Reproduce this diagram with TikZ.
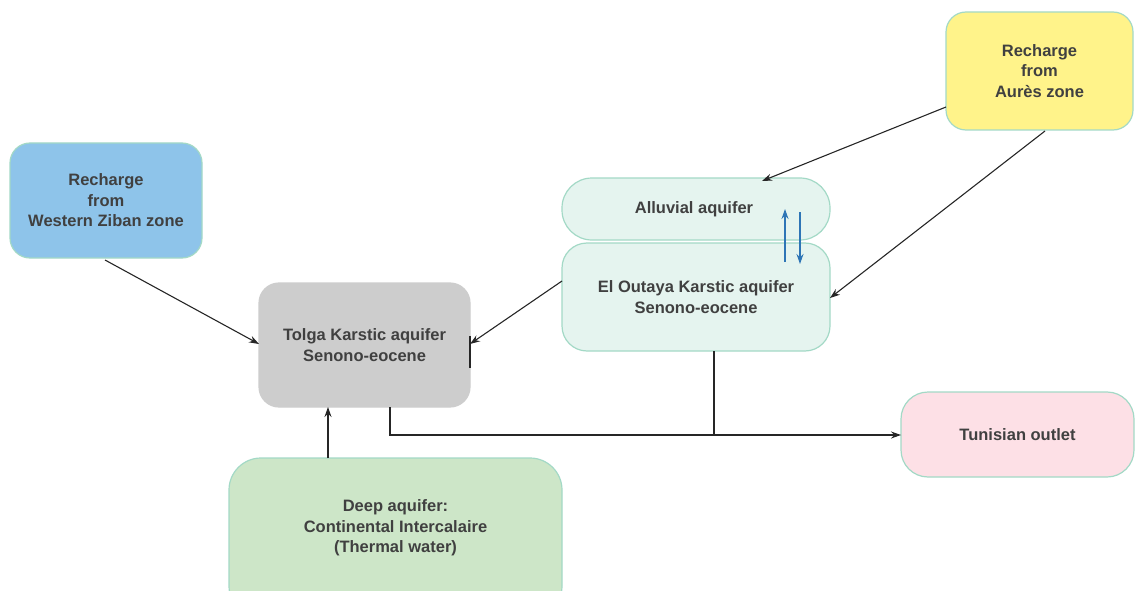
\documentclass[tikz,border=0pt]{standalone}
\usepackage{fontspec}
\setmainfont{Liberation Sans}
\usetikzlibrary{arrows.meta}
\definecolor{txt}{HTML}{404040}
\definecolor{bord}{HTML}{A3D9C6}
\definecolor{cblue}{HTML}{8EC4EA}
\definecolor{cgray}{HTML}{CDCDCD}
\definecolor{cmint}{HTML}{E5F4EF}
\definecolor{cyel}{HTML}{FFF38A}
\definecolor{cpink}{HTML}{FDE0E6}
\definecolor{cgreen}{HTML}{CDE6C8}
\definecolor{arrblue}{HTML}{2E75B6}
\tikzset{
  boxstyle/.style={draw=bord, line width=1.2pt, align=center, text=txt,
    font=\fontsize{16.5}{20.5}\selectfont\bfseries, inner sep=0pt},
  conn/.style={draw=black!85, line width=1.1pt, -{Stealth[length=10pt,width=7pt]}},
  plain/.style={draw=black!85, line width=1.1pt},
  bconn/.style={draw=arrblue, line width=1.2pt, -{Stealth[length=10pt,width=7pt]}}
}
\begin{document}
\begin{tikzpicture}[x=1pt,y=-1pt]
\useasboundingbox (0,0) rectangle (1135,591);
% boxes
\node[boxstyle, fill=cblue, rounded corners=20pt, minimum width=192pt, minimum height=115pt] (wz) at (106,200.5) {Recharge\\from\\Western Ziban zone};
\node[boxstyle, draw=cgray, fill=cgray, rounded corners=20pt, minimum width=211pt, minimum height=124pt] (tol) at (364.5,345) {Tolga Karstic aquifer\\Senono-eocene};
\node[boxstyle, fill=cmint, rounded corners=30pt, minimum width=268pt, minimum height=62pt] (all) at (696,209) {\hspace*{-4pt}Alluvial aquifer};
\node[boxstyle, fill=cmint, rounded corners=25pt, minimum width=268pt, minimum height=108pt] (elo) at (696,297) {El Outaya Karstic aquifer\\Senono-eocene};
\node[boxstyle, fill=cyel, rounded corners=20pt, minimum width=187pt, minimum height=118pt] (aur) at (1039.5,71) {Recharge\\from\\Aurès zone};
\node[boxstyle, fill=cpink, rounded corners=27pt, minimum width=233pt, minimum height=85pt] (tun) at (1017.5,434.5) {Tunisian outlet};
\node[boxstyle, fill=cgreen, rounded corners=32pt, minimum width=333pt, minimum height=160pt] (deep) at (395.5,538) {};
\node[text=txt, font=\fontsize{16.5}{20.5}\selectfont\bfseries, align=center] (deept) at (395.5,528) {Deep aquifer:\\Continental Intercalaire\\(Thermal water)};
% connector coordinates
\coordinate (wzs) at (105,260);
\coordinate (tolw) at (259,344);
\coordinate (aur1) at (946,107);
\coordinate (alln) at (762,181);
\coordinate (aur2) at (1045,131);
\coordinate (eloe) at (830,298);
\coordinate (elow) at (562,281);
\coordinate (tole) at (470,344);
\coordinate (deepn) at (328,458);
\coordinate (tols) at (328,407);
\coordinate (tolb) at (390,407);
\coordinate (c1) at (390,435);
\coordinate (elob) at (714,351);
\coordinate (j) at (714,435);
\coordinate (tunw) at (901,435);
\coordinate (b1s) at (785,262);
\coordinate (b1e) at (785,209);
\coordinate (b2s) at (800,212);
\coordinate (b2e) at (800,264);
\coordinate (tv1) at (470,336);
\coordinate (tv2) at (470,368);
% connectors
\draw[conn] (wzs) -- (tolw);
\draw[conn] (aur1) -- (alln);
\draw[conn] (aur2) -- (eloe);
\draw[conn] (elow) -- (tole);
\draw[plain] (tv1) -- (tv2);
\draw[conn] (deepn) -- (tols);
\draw[plain] (tolb) -- (c1) -- (j);
\draw[plain] (elob) -- (j);
\draw[conn] (j) -- (tunw);
\draw[bconn] (b1s) -- (b1e);
\draw[bconn] (b2s) -- (b2e);
\end{tikzpicture}
\end{document}
